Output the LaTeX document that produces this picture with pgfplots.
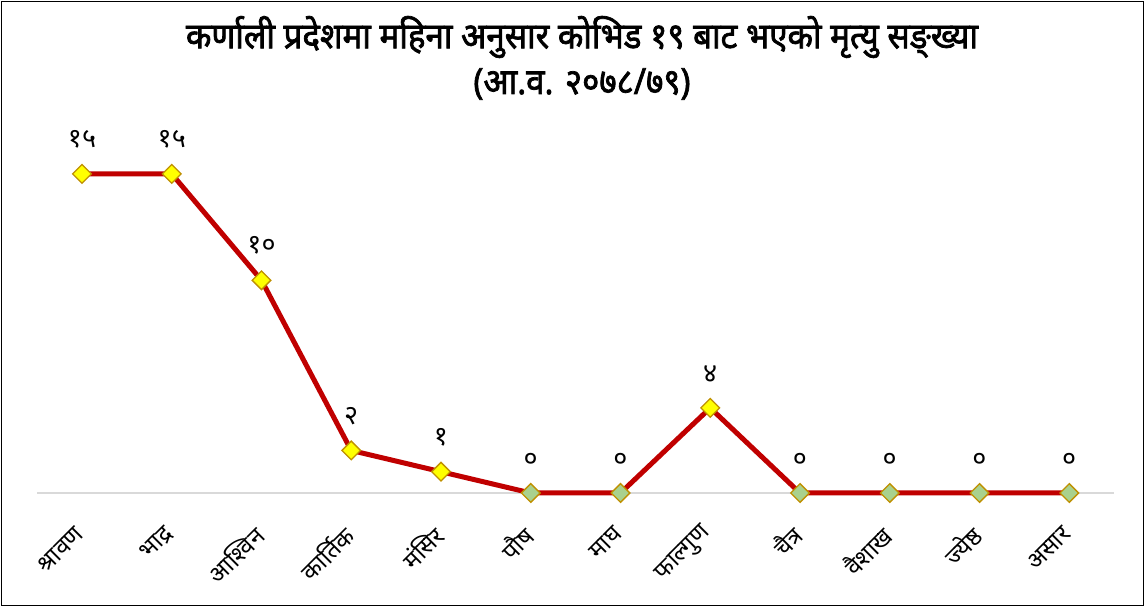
\documentclass[border=0pt]{standalone}
\usepackage{pgfplots}
\pgfplotsset{compat=1.18}
\usepackage{fontspec}
\newfontfamily\deva[Script=Devanagari]{Noto Sans}
\newfontfamily\devab[Script=Devanagari, FakeBold=2, FakeStretch=0.92]{Noto Sans}
\definecolor{linered}{HTML}{C00000}
\definecolor{mkedge}{HTML}{BF9000}
\definecolor{mkyellow}{HTML}{FFFF00}
\definecolor{mkgreen}{HTML}{A9D18E}
\definecolor{axgray}{HTML}{D9D9D9}

\begin{document}
\begin{tikzpicture}
\useasboundingbox (0pt,0pt) rectangle (1145pt,607pt);
\draw[black, line width=1.2pt] (1.5pt,1.5pt) rectangle (1143.5pt,605.5pt);
\node[font=\devab\fontsize{36}{42}\selectfont] at (582pt,570pt)
  {कर्णाली प्रदेशमा महिना अनुसार कोभिड १९ बाट भएको मृत्यु सङ्ख्या};
\node[font=\devab\fontsize{36}{42}\selectfont] at (582pt,523pt)
  {(आ.व. २०७८/७९)};
\begin{axis}[at={(82pt,114pt)}, anchor=origin, scale only axis,
  width=1077pt, height=351pt,
  xmin=-0.5, xmax=11.5, ymin=0, ymax=16.5,
  axis x line=bottom, axis y line=none,
  x axis line style={-, draw=axgray, line width=1.5pt},
  xtick={0,...,11},
  xticklabels={श्रावण,भाद्र,आश्विन,कार्तिक,मंसिर,पौष,माघ,फाल्गुण,चैत्र,वैशाख,ज्येष्ठ,असार},
  xtick style={draw=none},
  xticklabel style={xshift=0pt, yshift=-33pt, rotate=45, anchor=east, font=\deva\fontsize{24}{28}\selectfont},
  clip=false]
% line
\addplot[linered, line width=5pt, no markers, line join=round,
  nodes near coords, point meta=explicit symbolic,
  every node near coord/.style={anchor=south, yshift=20pt, black, font=\deva\fontsize{27}{30}\selectfont}]
  coordinates {(0,15)[१५] (1,15)[१५] (2,10)[१०] (3,2)[२] (4,1)[१] (5,0)[०]
               (6,0)[०] (7,4)[४] (8,0)[०] (9,0)[०] (10,0)[०] (11,0)[०]};
% non-zero markers
\addplot[only marks, mark=square*, mark size=6.6pt, mark options={rotate=45, fill=mkyellow, draw=mkedge, line width=1.3pt}]
  coordinates {(0,15) (1,15) (2,10) (3,2) (4,1) (7,4)};
% zero markers
\addplot[only marks, mark=square*, mark size=6.6pt, mark options={rotate=45, fill=mkgreen, draw=mkedge, line width=1.3pt}]
  coordinates {(5,0) (6,0) (8,0) (9,0) (10,0) (11,0)};
\end{axis}
\end{tikzpicture}
\end{document}
